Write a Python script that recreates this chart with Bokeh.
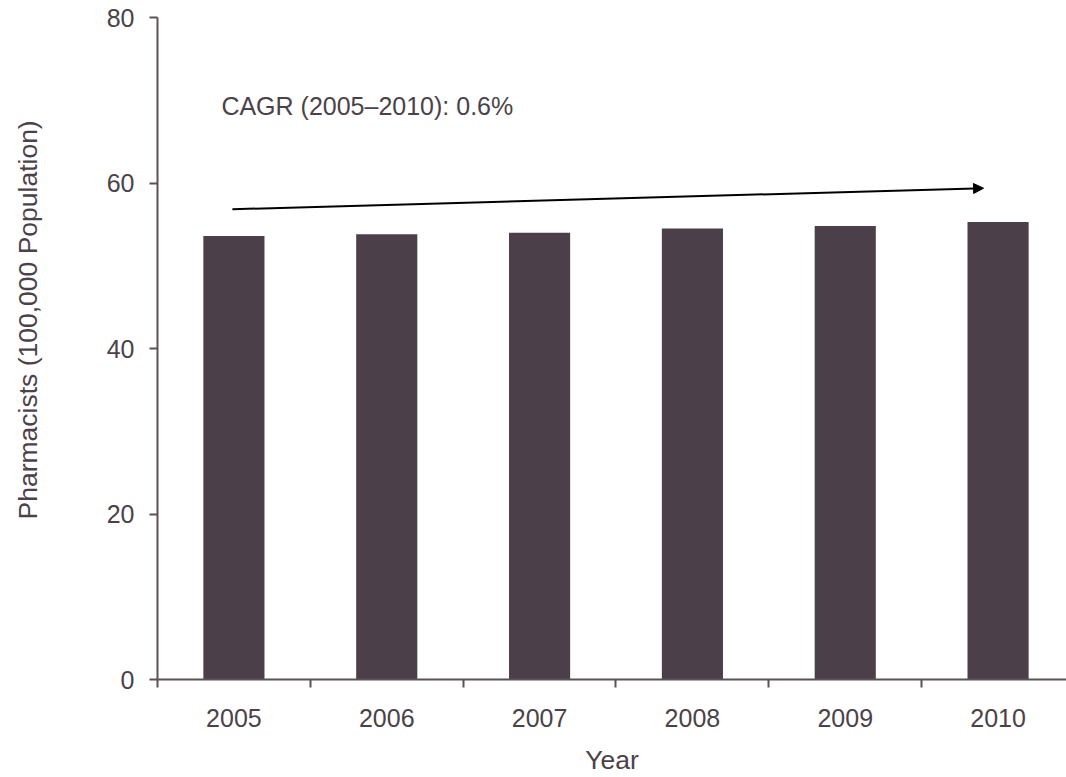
from bokeh.plotting import figure
from bokeh.models import Range1d, FixedTicker, Label, Arrow, NormalHead, ColumnDataSource, Title
from bokeh.embed import file_html
from bokeh.resources import INLINE

# ---- data ----
years = ["2005", "2006", "2007", "2008", "2009", "2010"]
pharmacists = [53.6, 53.8, 54.0, 54.5, 54.8, 55.3]
y_ticks = [0, 20, 40, 60, 80]
cagr_text = "CAGR (2005\u20132010): 0.6%"
x_title = "Year"
y_title = "Pharmacists (100,000 Population)"

# ---- styles ----
FONT = "Liberation Sans"
TEXT_COLOR = "#4B4249"
AXIS_COLOR = "#5B5159"
BAR_COLOR = "#4B4049"

centers = [i + 0.5 for i in range(len(years))]
boundaries = list(range(len(years) + 1))

source = ColumnDataSource(dict(x=centers, top=pharmacists, year=years))

p = figure(width=1066, height=777, output_backend="svg", toolbar_location=None,
           x_range=Range1d(0, 910 / 153), y_range=Range1d(0, 80),
           min_border_left=156, min_border_right=0, min_border_top=17,
           min_border_bottom=97)
p.outline_line_color = None
p.grid.visible = False
p.background_fill_color = "white"
p.border_fill_color = "white"

p.vbar(x="x", top="top", width=0.4, bottom=0, source=source,
       fill_color=BAR_COLOR, line_color=None)

# x axis: labels at category centres, tick marks at category boundaries
xa = p.xaxis[0]
xa.ticker = FixedTicker(ticks=centers, minor_ticks=boundaries)
xa.major_label_overrides = {c: y for c, y in zip(centers, years)}
xa.major_tick_line_color = None
xa.minor_tick_line_color = AXIS_COLOR
xa.minor_tick_line_width = 2
xa.minor_tick_in = 0
xa.minor_tick_out = 8
xa.axis_line_color = AXIS_COLOR
xa.axis_line_width = 2
xa.major_label_text_font = FONT
xa.major_label_text_font_size = "25px"
xa.major_label_text_color = TEXT_COLOR
xa.major_label_standoff = 21
xa.axis_label = x_title
xa.axis_label_text_font = FONT
xa.axis_label_text_font_size = "26.5px"
xa.axis_label_text_font_style = "normal"
xa.axis_label_text_color = TEXT_COLOR
xa.axis_label_standoff = 15

ya = p.yaxis[0]
ya.ticker = FixedTicker(ticks=y_ticks)
ya.minor_tick_line_color = None
ya.major_tick_line_color = AXIS_COLOR
ya.major_tick_line_width = 2
ya.major_tick_in = 0
ya.major_tick_out = 8
ya.axis_line_color = AXIS_COLOR
ya.axis_line_width = 2
ya.major_label_text_font = FONT
ya.major_label_text_font_size = "25px"
ya.major_label_text_color = TEXT_COLOR
ya.major_label_standoff = 15

# spacer between the y axis and its title (keeps the title at the far left)
p.add_layout(Title(text=" ", standoff=44, text_font_size="1px",
                   text_color="white"), "left")
# y axis title
p.add_layout(Title(text=y_title, align="left", offset=160, standoff=24,
                   vertical_align="top",
                   text_font=FONT, text_font_size="26.5px",
                   text_font_style="normal", text_color=TEXT_COLOR), "left")

# CAGR arrow and text
p.add_layout(Arrow(end=NormalHead(size=10, fill_color="black", line_color="black", line_width=1),
                   x_start=0.49, y_start=56.83, x_end=5.405, y_end=59.37,
                   line_color="black", line_width=2))
p.add_layout(Label(x=0.418, y=69.3, text=cagr_text, text_font=FONT,
                   text_font_size="25px", text_color=TEXT_COLOR,
                   text_align="left", text_baseline="middle"))

open("out.html", "w").write(file_html(p, INLINE))
